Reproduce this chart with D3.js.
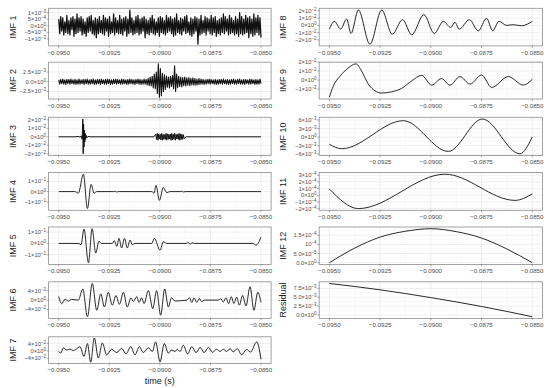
<!DOCTYPE html>
<html>
<head>
<meta charset="utf-8">
<script src="https://cdn.jsdelivr.net/npm/d3@7"></script>
<style>
  body { margin: 0; background: #fff; }
  svg { display: block; }
  text { font-family: "Liberation Sans", Arial, Helvetica, sans-serif; }
</style>
</head>
<body>
<div id="chart"></div>
<script>
// ---- x axis (time, s) ----
var xTicks = [-0.0950, -0.0925, -0.0900, -0.0875, -0.0850];
var xTickLabels = ["-0.0950", "-0.0925", "-0.0900", "-0.0875", "-0.0850"];
var xMinor = [-0.09375, -0.09125, -0.08875, -0.08625];

// ---- IMF 1: dense noise, values in units of 1e-4, evenly sampled over the window ----
var imf1Unit = 1e-4;
var imf1 = [
    5,-6,7,-4,6,-7,3,-5,8,-6,4,-7,6,-3,7,-8,5,-6,9,-5,
    6,-4,7,-7,5,-6,3,-8,6,-5,7,-4,8,-6,4,-7,6,-9,5,-6,
    7,-5,4,-6,8,-7,6,-4,5,-8,7,-6,3,-5,9,-7,6,-5,4,-6,
    8,-6,5,-7,6,-4,7,-8,5,-6,12,-5,6,-7,4,-6,7,-5,8,-7,
    5,-6,6,-4,7,-9,5,-6,4,-7,6,-5,8,-6,5,-7,3,-5,6,-8,
    7,-5,6,-6,4,-7,8,-5,6,-4,7,-6,5,-8,6,-7,9,-5,4,-6,
    6,-7,5,-4,7,-6,8,-5,3,-7,6,-8,5,-6,7,-4,6,-14,5,-7,
    8,-6,4,-5,7,-7,6,-4,5,-6,8,-7,6,-5,7,-8,4,-6,5,-7,
    6,-5,9,-6,7,-4,5,-7,8,-6,6,-5,4,-7,7,-6,5,-8,10,-6,
    7,-7,5,-6,8,-5,6,-9,7,-6,5,-8,9,-7,6,-5,8,-7,6,-9
];

// ---- IMF 2: values in units of 1e-4, evenly sampled ----
var imf2Unit = 1e-4;
var imf2 = [
    5,-6,6,-5,7,-6,5,-7,6,-5,6,-6,7,-5,5,-6,6,-7,5,-6,
    7,-6,5,-5,6,-7,6,-5,7,-6,5,-6,6,-5,7,-7,5,-6,6,-5,
    6,-7,7,-5,5,-6,6,-6,7,-5,6,-7,5,-6,6,-5,7,-6,6,-5,
    5,-6,7,-6,6,-5,5,-7,6,-6,7,-5,6,-6,5,-7,6,-5,7,-6,
    6,-7,5,-6,7,-6,6,-8,9,-10,12,-11,14,-16,20,-18,25,-30,46,-40,
    34,-36,22,-25,18,-20,15,-14,12,-16,14,-12,16,-18,41,-25,20,-15,14,-12,
    12,-13,11,-10,12,-11,10,-9,11,-10,9,-8,10,-9,8,-9,7,-8,8,-7,
    7,-6,6,-7,5,-6,6,-5,7,-6,6,-5,5,-6,6,-7,5,-6,6,-5,
    6,-6,7,-5,5,-6,6,-7,5,-6,6,-5,7,-6,5,-6,6,-5,7,-6,
    5,-6,6,-7,6,-5,5,-6,7,-6,6,-5,5,-7,6,-6,5,-6,7,-5
];

// ---- IMF 3: [time, value in 1e-3] plus a dense burst near -0.0900 ----
var imf3Unit = 1e-3;
var imf3Head = [
    [-0.09500, 0], [-0.09420, 0], [-0.09400, 0.5], [-0.09395, -0.5], [-0.09388, 1],
    [-0.09384, -3], [-0.09381, 21], [-0.09379, -20], [-0.09377, 15], [-0.09375, -12],
    [-0.09373, 8], [-0.09371, -6], [-0.09369, 4], [-0.09367, -3], [-0.09364, 1.5],
    [-0.09360, -1], [-0.09355, 0.5], [-0.09345, 0], [-0.09030, 0]
];
var imf3BurstSpan = [-0.0902, -0.0888];
var imf3Burst = [
    3,-3,4,-4,3,-2.5,3,-3.5,4,-4,3,-3,2.5,-3,4,-4,3.5,-3,3,-2.5,
    3,-4,4,-3.5,3,-3,4,-4,3,-2.5,3,-3,4,-4,3.5,-3,3,-3,2.5,-2
];
var imf3Tail = [[-0.08870, 0], [-0.08500, 0]];

// ---- IMF 4 .. Residual: [time, value] read at turning points ----
var imf4 = [
    [-0.09500, 0], [-0.09420, 0], [-0.09403, -0.015], [-0.09378, 0.168], [-0.09358, -0.164],
    [-0.09340, 0.07], [-0.09325, -0.015], [-0.09312, 0], [-0.09230, 0], [-0.09222, 0.004],
    [-0.09215, -0.004], [-0.09205, 0], [-0.09040, 0], [-0.09029, -0.015], [-0.09019, 0.06],
    [-0.09002, -0.085], [-0.08983, 0.04], [-0.08966, -0.01], [-0.08950, 0], [-0.08900, 0],
    [-0.08892, 0.004], [-0.08884, -0.003], [-0.08870, 0], [-0.08500, 0]
];
var imf5 = [
    [-0.09500, 0], [-0.09400, 0], [-0.09390, -0.012], [-0.09375, 0.126], [-0.09353, -0.17],
    [-0.09335, 0.13], [-0.09317, -0.085], [-0.09301, 0.02], [-0.09290, 0], [-0.09235, 0],
    [-0.09225, 0.025], [-0.09213, -0.026], [-0.09202, 0.045], [-0.09189, -0.04], [-0.09175, 0.045],
    [-0.09161, -0.04], [-0.09147, 0.03], [-0.09136, -0.012], [-0.09123, 0], [-0.09040, 0],
    [-0.09027, 0.045], [-0.08999, -0.06], [-0.08983, 0.015], [-0.08966, 0], [-0.08870, 0],
    [-0.08859, 0.008], [-0.08850, -0.008], [-0.08842, 0.006], [-0.08830, 0], [-0.08540, 0],
    [-0.08525, -0.015], [-0.08500, 0.055]
];
var imf6 = [
    [-0.09500, 0.0155], [-0.09485, -0.0155], [-0.09469, 0.004], [-0.09452, -0.004], [-0.09436, 0.003],
    [-0.09403, 0], [-0.09381, 0.048], [-0.09358, -0.072], [-0.09334, 0.072], [-0.09312, -0.044],
    [-0.09292, 0.027], [-0.09274, -0.030], [-0.09255, 0.034], [-0.09235, -0.022], [-0.09217, 0.020],
    [-0.09200, -0.018], [-0.09180, 0.034], [-0.09161, -0.030], [-0.09143, 0.010], [-0.09131, -0.006],
    [-0.09114, 0.015], [-0.09103, -0.010], [-0.09090, 0.010], [-0.09078, -0.015], [-0.09057, 0.041],
    [-0.09035, -0.037], [-0.09016, 0.041], [-0.08996, -0.065], [-0.08976, 0.048], [-0.08958, -0.030],
    [-0.08942, 0.010], [-0.08925, -0.004], [-0.08867, 0], [-0.08854, 0.010], [-0.08842, -0.010],
    [-0.08831, 0.010], [-0.08817, -0.010], [-0.08805, 0.007], [-0.08793, -0.007], [-0.08781, 0],
    [-0.08711, 0], [-0.08699, 0.006], [-0.08686, -0.008], [-0.08673, 0.010], [-0.08660, -0.015],
    [-0.08647, 0.015], [-0.08634, -0.015], [-0.08620, 0.013], [-0.08607, -0.022], [-0.08591, 0.020],
    [-0.08574, -0.025], [-0.08554, 0.058], [-0.08535, -0.044], [-0.08516, 0.034], [-0.08500, -0.010]
];
var imf7 = [
    [-0.09500, -0.003], [-0.09490, -0.012], [-0.09477, 0.017], [-0.09460, 0.005], [-0.09444, 0.010],
    [-0.09428, 0.002], [-0.09414, 0.009], [-0.09395, 0.023], [-0.09375, -0.030], [-0.09358, 0.040],
    [-0.09342, -0.061], [-0.09324, 0.070], [-0.09304, -0.038], [-0.09284, 0.043], [-0.09263, -0.021],
    [-0.09238, 0.009], [-0.09213, -0.009], [-0.09189, 0.014], [-0.09167, -0.016], [-0.09144, 0.023],
    [-0.09123, -0.021], [-0.09101, 0.023], [-0.09082, -0.009], [-0.09057, 0.017], [-0.09037, -0.003],
    [-0.09021, 0.049], [-0.08999, -0.059], [-0.08978, 0.040], [-0.08958, -0.012], [-0.08942, 0.005],
    [-0.08925, -0.003], [-0.08914, 0.009], [-0.08900, -0.003], [-0.08884, 0.031], [-0.08863, -0.016],
    [-0.08842, 0.023], [-0.08821, -0.009], [-0.08801, 0.019], [-0.08781, -0.009], [-0.08760, 0.019],
    [-0.08740, -0.007], [-0.08719, 0.009], [-0.08703, -0.003], [-0.08686, 0.009], [-0.08670, -0.003],
    [-0.08653, 0.012], [-0.08637, -0.005], [-0.08617, 0.012], [-0.08596, -0.021], [-0.08571, 0.008],
    [-0.08552, -0.006], [-0.08521, 0.049], [-0.08500, -0.045]
];
var imf8 = [
    [-0.09500, -0.0051], [-0.09475, 0.0055], [-0.09444, -0.0051], [-0.09415, 0.0087], [-0.09393, -0.0110],
    [-0.09357, 0.0211], [-0.09300, -0.0258], [-0.09242, 0.0211], [-0.09190, -0.0120], [-0.09139, 0.0078],
    [-0.09094, -0.0129], [-0.09034, 0.0147], [-0.08983, -0.0110], [-0.08938, 0.0055], [-0.08902, -0.0028],
    [-0.08881, 0.0041], [-0.08860, -0.0051], [-0.08810, 0.0078], [-0.08766, -0.0074], [-0.08725, 0.0097],
    [-0.08695, -0.0074], [-0.08664, 0.0055], [-0.08626, 0.0000], [-0.08594, 0.0009], [-0.08553, -0.0005],
    [-0.08500, 0.0055]
];
var imf9 = [
    [-0.09500, -0.0190], [-0.09480, -0.0064], [-0.09447, 0.0045], [-0.09415, 0.0117], [-0.09369, 0.0178],
    [-0.09341, 0.0099], [-0.09308, -0.0045], [-0.09275, -0.0118], [-0.09242, -0.0143], [-0.09193, -0.0129],
    [-0.09144, -0.0092], [-0.09094, -0.0009], [-0.09045, 0.0052], [-0.08996, -0.0056], [-0.08947, 0.0016],
    [-0.08906, -0.0056], [-0.08856, 0.0038], [-0.08807, -0.0045], [-0.08750, 0.0056], [-0.08700, -0.0081],
    [-0.08618, 0.0038], [-0.08544, -0.0056], [-0.08500, 0.0009]
];
var imf10 = [
    [-0.09500, -2.55e-3], [-0.09439, -4.1e-3], [-0.09135, 5.76e-3], [-0.08914, -5.05e-3],
    [-0.08746, 6.35e-3], [-0.08561, -5.88e-3], [-0.08500, 0.06e-3]
];
var imf11 = [
    [-0.09500, 0.94e-4], [-0.09357, -2.0e-4], [-0.08930, 3.15e-4], [-0.08585, -0.77e-4], [-0.08500, 0.2e-4]
];
var imf12 = [
    [-0.09500, 0], [-0.09375, 0.80e-4], [-0.09250, 1.40e-4], [-0.09125, 1.72e-4], [-0.09000, 1.86e-4],
    [-0.08875, 1.70e-4], [-0.08750, 1.35e-4], [-0.08625, 0.75e-4], [-0.08500, 0]
];
var residual = [
    [-0.09500, 8.9e-3], [-0.09375, 8.05e-3], [-0.09250, 7.1e-3], [-0.09125, 6.05e-3], [-0.09000, 4.9e-3],
    [-0.08875, 3.7e-3], [-0.08750, 2.4e-3], [-0.08625, 1.0e-3], [-0.08500, -0.5e-3]
];

// ---- y tick values and labels ("mantissa×10^exp") ----
var imf1Ticks = [1e-3, 5e-4, 0, -5e-4, -1e-3];
var imf1Labels = ["1×10^-3", "5×10^-4", "0×10^0", "-5×10^-4", "-1×10^-3"];
var imf2Ticks = [2.5e-3, 0, -2.5e-3];
var imf2Labels = ["2.5×10^-3", "0.0×10^0", "-2.5×10^-3"];
var imf3Ticks = [2e-2, 1e-2, 0, -1e-2, -2e-2];
var imf3Labels = ["2×10^-2", "1×10^-2", "0×10^0", "-1×10^-2", "-2×10^-2"];
var imf4Ticks = [1e-1, 0, -1e-1];
var imf4Labels = ["1×10^-1", "0×10^0", "-1×10^-1"];
var imf6Ticks = [4e-2, 0, -4e-2];
var imf6Labels = ["4×10^-2", "0×10^0", "-4×10^-2"];
var imf8Ticks = [2e-2, 1e-2, 0, -1e-2, -2e-2];
var imf9Ticks = [2e-2, 1e-2, 0, -1e-2];
var imf9Labels = ["2×10^-2", "1×10^-2", "0×10^0", "-1×10^-2"];
var imf10Ticks = [6e-3, 3e-3, 0, -3e-3, -6e-3];
var imf10Labels = ["6×10^-3", "3×10^-3", "0×10^0", "-3×10^-3", "-6×10^-3"];
var imf11Ticks = [3e-4, 2e-4, 1e-4, 0, -1e-4, -2e-4];
var imf11Labels = ["3×10^-4", "2×10^-4", "1×10^-4", "0×10^0", "-1×10^-4", "-2×10^-4"];
var imf12Ticks = [1.5e-4, 1e-4, 5e-5, 0];
var imf12Labels = ["1.5×10^-4", "10^-4", "5.0×10^-5", "0.0×10^0"];
var residualTicks = [7.5e-3, 5e-3, 2.5e-3, 0];
var residualLabels = ["7.5×10^-3", "5.0×10^-3", "2.5×10^-3", "0.0×10^0"];

// ---- layout ----
var width = 550, height = 388;
var colRange = [[48.6, 271.1], [319.2, 542.4]];
var rowTop = [8.3, 62.2, 117.3, 172.5, 227.0, 281.8, 336.8];
var rowHeight = [37.6, 36.8, 38.2, 37.8, 37.4, 36.6, 26.6];
var titleX = [12.8, 282.6];

function evenPoints(values, unit, span) {
    var t = d3.scaleLinear().domain([0, values.length - 1]).range(span);
    return values.map(function (v, i) { return [t(i), v * unit]; });
}

var imf3Points = imf3Head.map(function (d) { return [d[0], d[1] * imf3Unit]; })
    .concat(evenPoints(imf3Burst, imf3Unit, imf3BurstSpan))
    .concat(imf3Tail.map(function (d) { return [d[0], d[1] * imf3Unit]; }));

var panels = [
    {name: "IMF 1", col: 0, row: 0, data: evenPoints(imf1, imf1Unit, [-0.095, -0.085]), ticks: imf1Ticks, labels: imf1Labels, curve: d3.curveLinear, lw: 1.25},
    {name: "IMF 2", col: 0, row: 1, data: evenPoints(imf2, imf2Unit, [-0.095, -0.085]), ticks: imf2Ticks, labels: imf2Labels, curve: d3.curveLinear, lw: 1.1},
    {name: "IMF 3", col: 0, row: 2, data: imf3Points, ticks: imf3Ticks, labels: imf3Labels, curve: d3.curveLinear, lw: 1.0},
    {name: "IMF 4", col: 0, row: 3, data: imf4, ticks: imf4Ticks, labels: imf4Labels, curve: d3.curveMonotoneX, lw: 0.9},
    {name: "IMF 5", col: 0, row: 4, data: imf5, ticks: imf4Ticks, labels: imf4Labels, curve: d3.curveMonotoneX, lw: 0.9},
    {name: "IMF 6", col: 0, row: 5, data: imf6, ticks: imf6Ticks, labels: imf6Labels, curve: d3.curveMonotoneX, lw: 0.9},
    {name: "IMF 7", col: 0, row: 6, data: imf7, ticks: imf6Ticks, labels: imf6Labels, curve: d3.curveMonotoneX, lw: 0.9},
    {name: "IMF 8", col: 1, row: 0, data: imf8, ticks: imf8Ticks, labels: imf3Labels, curve: d3.curveMonotoneX, lw: 0.9},
    {name: "IMF 9", col: 1, row: 1, data: imf9, ticks: imf9Ticks, labels: imf9Labels, curve: d3.curveMonotoneX, lw: 0.9},
    {name: "IMF 10", col: 1, row: 2, data: imf10, ticks: imf10Ticks, labels: imf10Labels, curve: d3.curveMonotoneX, lw: 0.9},
    {name: "IMF 11", col: 1, row: 3, data: imf11, ticks: imf11Ticks, labels: imf11Labels, curve: d3.curveMonotoneX, lw: 0.9},
    {name: "IMF 12", col: 1, row: 4, data: imf12, ticks: imf12Ticks, labels: imf12Labels, curve: d3.curveMonotoneX, lw: 0.9},
    {name: "Residual", col: 1, row: 5, data: residual, ticks: residualTicks, labels: residualLabels, curve: d3.curveMonotoneX, lw: 0.9}
];

var svg = d3.select("#chart").append("svg")
    .attr("width", width).attr("height", height);
svg.append("rect").attr("width", width).attr("height", height).attr("fill", "#fff");

// writes "2.5×10^-3" as mantissa, ×10 and a raised exponent
function sciLabel(sel, label) {
    var parts = label.replace(/-/g, "\u2212").split("^");
    sel.append("tspan").text(parts[0]);
    sel.append("tspan").attr("dy", -2.0).attr("font-size", "4.5px").text(parts[1]);
}

panels.forEach(function (p, k) {
    var top = rowTop[p.row], h = rowHeight[p.row];
    var x = d3.scaleLinear().domain([-0.0955, -0.0845]).range(colRange[p.col]);
    var ext = d3.extent(p.data, function (d) { return d[1]; });
    var pad = (ext[1] - ext[0]) * 0.05;
    var y = d3.scaleLinear().domain([ext[0] - pad, ext[1] + pad]).range([top + h, top]);
    var left = colRange[p.col][0], right = colRange[p.col][1];

    var g = svg.append("g");

    // minor grid
    var sorted = p.ticks.slice().sort(d3.ascending);
    var step = sorted[1] - sorted[0];
    var yMinor = sorted.map(function (t) { return t - step / 2; }).concat([sorted[sorted.length - 1] + step / 2])
        .filter(function (v) { return v > y.domain()[0] && v < y.domain()[1]; });
    g.selectAll(".ymin").data(yMinor).enter().append("line")
        .attr("x1", left).attr("x2", right)
        .attr("y1", function (d) { return y(d); }).attr("y2", function (d) { return y(d); })
        .attr("stroke", "#f0f0f0").attr("stroke-width", 0.4);
    g.selectAll(".xmin").data(xMinor).enter().append("line")
        .attr("y1", top).attr("y2", top + h)
        .attr("x1", function (d) { return x(d); }).attr("x2", function (d) { return x(d); })
        .attr("stroke", "#f0f0f0").attr("stroke-width", 0.4);

    // major grid
    g.selectAll(".ymaj").data(p.ticks).enter().append("line")
        .attr("x1", left).attr("x2", right)
        .attr("y1", function (d) { return y(d); }).attr("y2", function (d) { return y(d); })
        .attr("stroke", "#e4e4e4").attr("stroke-width", 0.6);
    g.selectAll(".xmaj").data(xTicks).enter().append("line")
        .attr("y1", top).attr("y2", top + h)
        .attr("x1", function (d) { return x(d); }).attr("x2", function (d) { return x(d); })
        .attr("stroke", "#e4e4e4").attr("stroke-width", 0.6);

    // series
    svg.append("clipPath").attr("id", "clip" + k).append("rect")
        .attr("x", left).attr("y", top).attr("width", right - left).attr("height", h);
    var line = d3.line()
        .x(function (d) { return x(d[0]); })
        .y(function (d) { return y(d[1]); })
        .curve(p.curve);
    g.append("path").datum(p.data)
        .attr("clip-path", "url(#clip" + k + ")")
        .attr("d", line)
        .attr("fill", "none")
        .attr("stroke", "#111")
        .attr("stroke-width", p.lw)
        .attr("stroke-linejoin", "round");

    // border
    g.append("rect").attr("x", left).attr("y", top).attr("width", right - left).attr("height", h)
        .attr("fill", "none").attr("stroke", "#8c8c8c").attr("stroke-width", 0.8);

    // y ticks and labels
    g.selectAll(".ytick").data(p.ticks).enter().append("line")
        .attr("x1", left - 2).attr("x2", left)
        .attr("y1", function (d) { return y(d); }).attr("y2", function (d) { return y(d); })
        .attr("stroke", "#555").attr("stroke-width", 0.5);
    g.selectAll(".ylab").data(p.ticks).enter().append("text")
        .attr("x", left - 2.6)
        .attr("y", function (d) { return y(d) + 2.0; })
        .attr("text-anchor", "end")
        .attr("font-size", "5.8px")
        .attr("fill", "#4d4d4d")
        .each(function (d, i) { sciLabel(d3.select(this), p.labels[i]); });

    // x ticks and labels
    g.selectAll(".xtick").data(xTicks).enter().append("line")
        .attr("y1", top + h).attr("y2", top + h + 2)
        .attr("x1", function (d) { return x(d); }).attr("x2", function (d) { return x(d); })
        .attr("stroke", "#555").attr("stroke-width", 0.5);
    g.selectAll(".xlab").data(xTicks).enter().append("text")
        .attr("x", function (d) { return x(d); })
        .attr("y", top + h + 8.6)
        .attr("text-anchor", "middle")
        .attr("font-size", "6.2px")
        .attr("fill", "#4d4d4d")
        .text(function (d, i) { return xTickLabels[i].replace("-", "\u2212"); });

    // panel title
    g.append("text")
        .attr("transform", "translate(" + titleX[p.col] + "," + (top + h / 2) + ") rotate(-90)")
        .attr("dy", "0.35em")
        .attr("text-anchor", "middle")
        .attr("font-size", "9px")
        .attr("fill", "#1a1a1a")
        .text(p.name);

    if (p.row === 6) {
        var mid = (x(-0.095) + x(-0.085)) / 2;
        svg.append("text")
            .attr("x", mid).attr("y", top + h + 20.5)
            .attr("text-anchor", "middle")
            .attr("font-size", "9px")
            .attr("fill", "#1a1a1a")
            .text("time (s)");
    }
});
</script>
</body>
</html>
